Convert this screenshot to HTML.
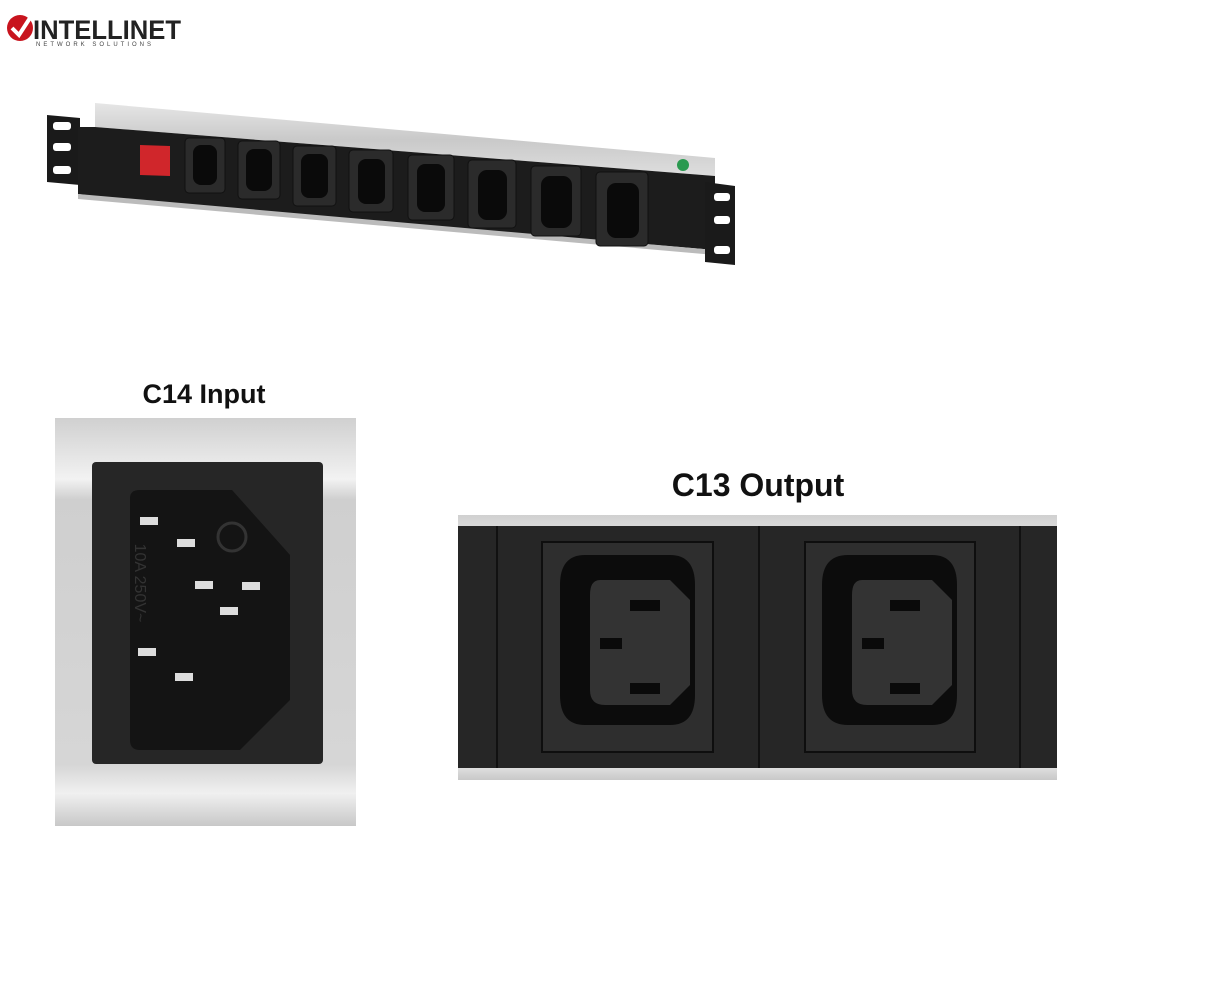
<!DOCTYPE html>
<html><head><style>
html,body{margin:0;padding:0;background:#fff;width:1230px;height:1000px;overflow:hidden}
svg{position:absolute;left:0;top:0}
</style></head><body>
<svg width="1230" height="1000" viewBox="0 0 1230 1000" xmlns="http://www.w3.org/2000/svg">
<defs>
<linearGradient id="sil" x1="0" y1="0" x2="0" y2="1">
<stop offset="0" stop-color="#e6e6e6"/><stop offset="0.5" stop-color="#c9c9c9"/><stop offset="1" stop-color="#dedede"/>
</linearGradient>
<linearGradient id="sil2" x1="0" y1="0" x2="0" y2="1">
<stop offset="0" stop-color="#d0d0d0"/><stop offset="0.15" stop-color="#f2f2f2"/><stop offset="0.2" stop-color="#cfcfcf"/><stop offset="0.85" stop-color="#d6d6d6"/><stop offset="0.92" stop-color="#f0f0f0"/><stop offset="1" stop-color="#c8c8c8"/>
</linearGradient>
</defs>
<!-- logo -->
<circle cx="20" cy="28" r="13" fill="#c8141e"/>
<path d="M12 28 L19 35 L30 18" stroke="#fff" stroke-width="4" fill="none"/>
<text x="33" y="39" font-family="Liberation Sans, sans-serif" font-weight="bold" font-size="27" fill="#222" textLength="148" lengthAdjust="spacingAndGlyphs">INTELLINET</text>
<text x="36" y="46" font-family="Liberation Sans, sans-serif" font-size="6" fill="#444" letter-spacing="3">NETWORK SOLUTIONS</text>

<!-- PDU -->
<polygon points="47,115 80,118 80,185 47,182" fill="#1a1a1a"/>
<rect x="53" y="122" width="18" height="8" rx="3" fill="#fff"/>
<rect x="53" y="143" width="18" height="8" rx="3" fill="#fff"/>
<rect x="53" y="166" width="18" height="8" rx="3" fill="#fff"/>
<polygon points="95,103 715,158 715,176 95,127" fill="url(#sil)"/>
<polygon points="78,127 95,127 715,176 715,250 125,200 78,194" fill="#1c1c1c"/>
<polygon points="78,194 715,250 715,255 78,199" fill="#bbb"/>
<circle cx="683" cy="165" r="6" fill="#2a9a50"/>
<polygon points="140,145 170,146 170,176 140,175" fill="#d0262b"/>
<g fill="#2b2b2b" stroke="#111">
<rect x="185" y="138" width="40" height="55" rx="4"/>
<rect x="238" y="141" width="42" height="58" rx="4"/>
<rect x="293" y="146" width="43" height="60" rx="4"/>
<rect x="349" y="150" width="44" height="62" rx="4"/>
<rect x="408" y="155" width="46" height="65" rx="4"/>
<rect x="468" y="160" width="48" height="68" rx="4"/>
<rect x="531" y="166" width="50" height="70" rx="4"/>
<rect x="596" y="172" width="52" height="74" rx="4"/>
</g>
<g fill="#0a0a0a">
<rect x="193" y="145" width="24" height="40" rx="8"/>
<rect x="246" y="149" width="26" height="42" rx="8"/>
<rect x="301" y="154" width="27" height="44" rx="8"/>
<rect x="358" y="159" width="27" height="45" rx="8"/>
<rect x="417" y="164" width="28" height="48" rx="8"/>
<rect x="478" y="170" width="29" height="50" rx="9"/>
<rect x="541" y="176" width="31" height="52" rx="9"/>
<rect x="607" y="183" width="32" height="55" rx="9"/>
</g>
<polygon points="705,182 735,186 735,265 705,262" fill="#1a1a1a"/>
<rect x="714" y="193" width="16" height="8" rx="3" fill="#fff"/>
<rect x="714" y="216" width="16" height="8" rx="3" fill="#fff"/>
<rect x="714" y="246" width="16" height="8" rx="3" fill="#fff"/>

<!-- C14 -->
<text x="204" y="403" text-anchor="middle" font-family="Liberation Sans, sans-serif" font-weight="bold" font-size="27" fill="#111">C14 Input</text>
<rect x="55" y="418" width="301" height="408" fill="url(#sil2)"/>
<rect x="92" y="462" width="231" height="302" rx="4" fill="#262626"/>
<path d="M130 498 Q130 490 140 490 L232 490 L290 555 L290 700 L240 750 L140 750 Q130 750 130 740 Z" fill="#141414"/>
<g fill="#ddd">
<rect x="140" y="517" width="18" height="8"/><rect x="177" y="539" width="18" height="8"/>
<rect x="195" y="581" width="18" height="8"/><rect x="242" y="582" width="18" height="8"/><rect x="220" y="607" width="18" height="8"/>
<rect x="138" y="648" width="18" height="8"/><rect x="175" y="673" width="18" height="8"/>
</g>
<circle cx="232" cy="537" r="14" fill="none" stroke="#333" stroke-width="3"/>
<text x="135" y="583" transform="rotate(90 135 583)" text-anchor="middle" font-family="Liberation Sans, sans-serif" font-size="16" fill="#333">10A 250V~</text>

<!-- C13 -->
<text x="758" y="496" text-anchor="middle" font-family="Liberation Sans, sans-serif" font-weight="bold" font-size="32" fill="#111">C13 Output</text>
<rect x="458" y="515" width="599" height="265" fill="url(#sil2)"/>
<rect x="458" y="526" width="599" height="242" fill="#262626"/>
<g stroke="#111" stroke-width="2"><line x1="497" y1="526" x2="497" y2="768"/><line x1="759" y1="526" x2="759" y2="768"/><line x1="1020" y1="526" x2="1020" y2="768"/></g>
<g fill="#2e2e2e" stroke="#0e0e0e" stroke-width="2">
<rect x="542" y="542" width="171" height="210"/><rect x="805" y="542" width="170" height="210"/>
</g>
<g fill="#0c0c0c">
<path d="M585 555 L670 555 Q695 555 695 585 L695 695 Q695 725 670 725 L585 725 Q560 725 560 695 L560 585 Q560 555 585 555Z"/>
<path d="M848 555 L932 555 Q957 555 957 585 L957 695 Q957 725 932 725 L848 725 Q822 725 822 695 L822 585 Q822 555 848 555Z"/>
</g>
<g fill="#333">
<path d="M600 580 L670 580 L690 600 L690 685 L670 705 L605 705 Q590 705 590 690 L590 595 Q590 580 600 580Z"/>
<path d="M862 580 L932 580 L952 600 L952 685 L932 705 L867 705 Q852 705 852 690 L852 595 Q852 580 862 580Z"/>
</g>
<g fill="#0a0a0a">
<rect x="630" y="600" width="30" height="11"/><rect x="600" y="638" width="22" height="11"/><rect x="630" y="683" width="30" height="11"/>
<rect x="890" y="600" width="30" height="11"/><rect x="862" y="638" width="22" height="11"/><rect x="890" y="683" width="30" height="11"/>
</g>
</svg>
</body></html>
